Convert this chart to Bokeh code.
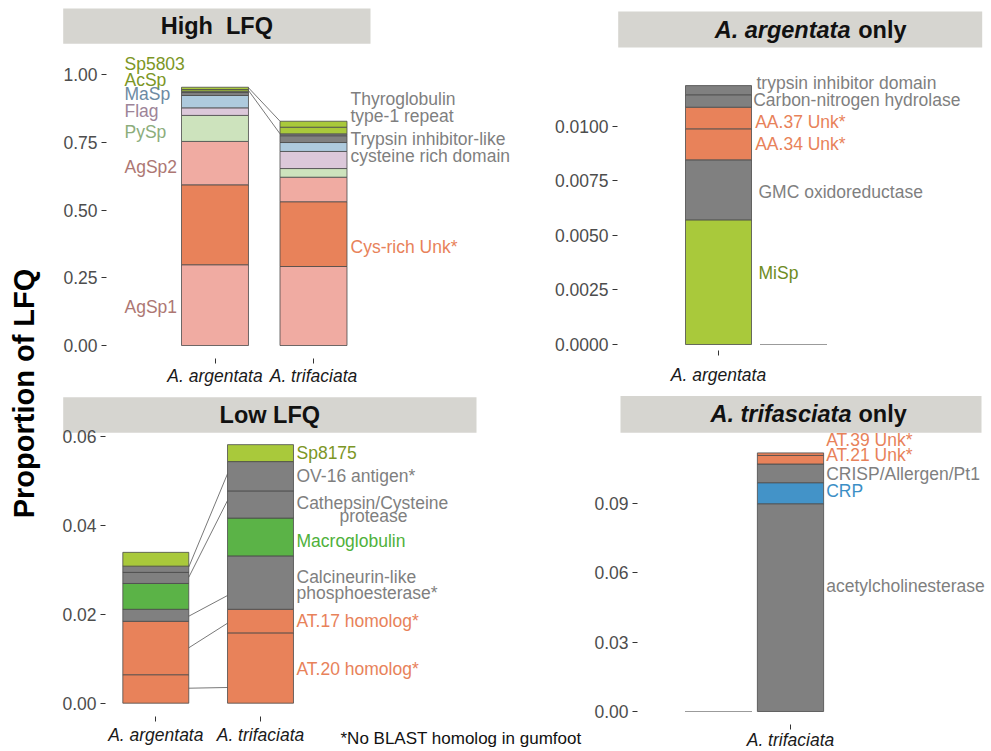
import math
from bokeh.plotting import figure
from bokeh.models import Range1d, FixedTicker, NumeralTickFormatter, ColumnDataSource
from bokeh.layouts import row, column
from bokeh.core.properties import value, field
from bokeh.embed import file_html
from bokeh.resources import INLINE

FONT = "Liberation Sans"
LAB_SIZE = "17.5px"

# ---------------- data ----------------
species = ["A. argentata", "A. trifaciata"]

# High LFQ (stack order bottom -> top)
high_segments = ["AgSp1", "Cys-rich Unk*", "AgSp2", "PySp", "Flag", "MaSp",
                 "Trypsin inhibitor-like", "Thyroglobulin", "AcSp", "Sp5803"]
high_argentata = [0.298, 0.295, 0.160, 0.096, 0.028, 0.0455, 0.011, 0.005, 0.006, 0.0085]
high_trifaciata = [0.2915, 0.239, 0.0905, 0.032, 0.063, 0.033, 0.025, 0.007, 0.0245, 0.022]
high_conn_left = [0.951, 0.941]
high_conn_right = [0.8277, 0.7812]

# Low LFQ
low_segments = ["AT.20 homolog*", "AT.17 homolog*", "Calcineurin-like phosphoesterase*",
                "Macroglobulin", "Cathepsin/Cysteine protease", "OV-16 antigen*", "Sp8175"]
low_argentata = [0.0064, 0.0120, 0.0027, 0.0058, 0.0025, 0.0014, 0.0031]
low_trifaciata = [0.0158, 0.0053, 0.0120, 0.0085, 0.0061, 0.0066, 0.0038]
low_conn_left = [0.00337, 0.01245, 0.01955, 0.0283, 0.0306]
low_conn_right = [0.00353, 0.01798, 0.0242, 0.04555, 0.05155]

# A. argentata only
arg_segments = ["MiSp", "GMC oxidoreductase", "AA.34 Unk*", "AA.37 Unk*",
                "Carbon-nitrogen hydrolase", "trypsin inhibitor domain"]
arg_argentata = [0.00571, 0.00275, 0.00142, 0.00099, 0.00057, 0.00042]
arg_trifaciata = [0, 0, 0, 0, 0, 0]

# A. trifasciata only
tri_segments = ["acetylcholinesterase", "CRP", "CRISP/Allergen/Pt1", "AT.21 Unk*", "AT.39 Unk*"]
tri_argentata = [0, 0, 0, 0, 0]
tri_trifaciata = [0.0899, 0.0091, 0.0081, 0.0037, 0.0011]

high_ticks = [0, 0.25, 0.5, 0.75, 1.0]
low_ticks = [0, 0.02, 0.04, 0.06]
arg_ticks = [0, 0.0025, 0.005, 0.0075, 0.01]
tri_ticks = [0, 0.03, 0.06, 0.09]

footnote = "*No BLAST homolog in gumfoot"
y_title = "Proportion of LFQ"

# ---------------- styles ----------------
PINK, ORANGE, LGREEN, LPURPLE, LBLUE = "#F0ABA2", "#E8825A", "#CDE3BD", "#DCC8DA", "#AECADD"
GRAY, LIME, GREEN, BLUE = "#808080", "#A9C93B", "#5BB347", "#4393C8"
high_colors = [PINK, ORANGE, PINK, LGREEN, LPURPLE, LBLUE, GRAY, GRAY, LIME, LIME]
low_colors = [ORANGE, ORANGE, GRAY, GREEN, GRAY, GRAY, LIME]
arg_colors = [LIME, GRAY, ORANGE, ORANGE, GRAY, GRAY]
tri_colors = [GRAY, BLUE, GRAY, ORANGE, ORANGE]

T_OR, T_GR, T_OL = "#E8825A", "#7f7f7f", "#7c9625"

# label lists: text, x (page px), y (data value), colour, align
tl_lab_text = ["Sp5803", "AcSp", "MaSp", "Flag", "PySp", "AgSp2", "AgSp1",
               "Thyroglobulin", "type-1 repeat", "Trypsin inhibitor-like",
               "cysteine rich domain", "Cys-rich Unk*"]
tl_lab_px = [124] * 7 + [350] * 5
tl_lab_y = [1.037, 0.978, 0.929, 0.867, 0.787, 0.658, 0.141,
            0.910, 0.8487, 0.7627, 0.7011, 0.3627]
tl_lab_col = [T_OL, T_OL, "#6d8aa3", "#9d8498", "#8cad7b", "#ad7773", "#ad7773",
              T_GR, T_GR, T_GR, T_GR, T_OR]
tl_lab_align = ["left"] * 12

tr_lab_text = ["trypsin inhibitor domain", "Carbon-nitrogen hydrolase", "AA.37 Unk*",
               "AA.34 Unk*", "GMC oxidoreductase", "MiSp"]
tr_lab_px = [756, 752.7, 754.7, 754.7, 758, 758]
tr_lab_y = [0.01199, 0.01121, 0.01018, 0.00918, 0.00697, 0.00329]
tr_lab_col = [T_GR, T_GR, T_OR, T_OR, T_GR, "#6f8c1e"]
tr_lab_align = ["left"] * 6

bl_lab_text = ["Sp8175", "OV-16 antigen*", "Cathepsin/Cysteine", "protease", "Macroglobulin",
               "Calcineurin-like", "phosphoesterase*", "AT.17 homolog*", "AT.20 homolog*"]
bl_lab_px = [296, 296, 296, 373, 296, 296, 296, 296, 296]
bl_lab_y = [0.05618, 0.05101, 0.04497, 0.04196, 0.03649, 0.02847, 0.02472, 0.01858, 0.00773]
bl_lab_col = [T_OL, T_GR, T_GR, T_GR, "#4fb13b", T_GR, T_GR, T_OR, T_OR]
bl_lab_align = ["left", "left", "left", "center", "left", "left", "left", "left", "left"]

br_lab_text = ["AT.39 Unk*", "AT.21 Unk*", "CRISP/Allergen/Pt1", "CRP", "acetylcholinesterase"]
br_lab_px = [825.7] * 5
br_lab_y = [0.1173, 0.1111, 0.1029, 0.0952, 0.0542]
br_lab_col = [T_OR, T_OR, T_GR, "#3c8fc6", T_GR]
br_lab_align = ["left"] * 5


def bare_figure(w, h, xr, yr):
    p = figure(width=w, height=h, x_range=xr, y_range=yr, toolbar_location=None,
               output_backend="svg", title=None, min_border=0,
               min_border_left=0, min_border_right=0, min_border_top=0, min_border_bottom=0)
    p.xgrid.visible = False
    p.ygrid.visible = False
    p.outline_line_color = None
    p.background_fill_color = "white"
    p.border_fill_color = "white"
    if "frame_align" in p.properties():
        p.frame_align = False
    return p


def make_panel(fig_x, fig_y, w, h, c1, step, zero, unit, xaxis_px, yaxis_px,
               seg_values, colors, bar_w, ticks, fmt, lab, strip, conn=None,
               x_standoff=2, x_tick=5):
    px2x = lambda px: 1 + (px - c1) / step
    py2y = lambda py: (zero - py) / unit
    p = bare_figure(w, h, Range1d(px2x(fig_x), px2x(fig_x + w)),
                    Range1d(py2y(fig_y + h), py2y(fig_y)))

    # strip header
    rl, rr, rt, rb, parts = strip
    p.quad(left=[px2x(rl)], right=[px2x(rr)], top=[py2y(rt)], bottom=[py2y(rb)],
           fill_color="#D6D5D0", line_color=None)
    cy = py2y((rt + rb) / 2)
    for txt, xp, al, style in parts:
        p.text(x=[px2x(xp)], y=[cy], text=[txt], text_align=al, text_baseline="middle",
               text_font=value(FONT), text_font_size=value("23.5px"), text_font_style=style,
               text_color="#111111")

    # stacked bars
    L, R, B, T, F, LC = [], [], [], [], [], []
    for i, vals in enumerate(seg_values):
        x = i + 1
        bottom = 0.0
        for v, c in zip(vals, colors):
            top = bottom + v
            L.append(x - bar_w / 2); R.append(x + bar_w / 2)
            B.append(bottom); T.append(top); F.append(c)
            LC.append("#4a4a4a" if v > 0 else "#9a9a9a")
            bottom = top
    src = ColumnDataSource(dict(left=L, right=R, bottom=B, top=T, fill=F, lc=LC))
    p.quad(left="left", right="right", bottom="bottom", top="top", fill_color="fill",
           line_color="lc", line_width=0.8, source=src)

    if conn is not None:
        cl, cr = conn
        p.segment(x0=[1 + bar_w / 2] * len(cl), y0=cl, x1=[2 - bar_w / 2] * len(cr), y1=cr,
                  line_color="#555555", line_width=0.8)

    text, pxs, ys, cols, aligns = lab
    lsrc = ColumnDataSource(dict(x=[px2x(v) for v in pxs], y=ys, text=text, col=cols, al=aligns))
    p.text(x="x", y="y", text="text", text_color="col", text_align=field("al"),
           text_baseline="middle", text_font=value(FONT), text_font_size=value(LAB_SIZE),
           source=lsrc)

    shown = [i + 1 for i, vals in enumerate(seg_values) if sum(vals) > 0]
    p.xaxis.ticker = FixedTicker(ticks=shown)
    p.xaxis.major_label_overrides = {i: species[i - 1] for i in shown}
    p.yaxis.ticker = FixedTicker(ticks=ticks)
    p.yaxis.formatter = NumeralTickFormatter(format=fmt)
    p.xaxis.fixed_location = py2y(xaxis_px)
    p.yaxis.fixed_location = px2x(yaxis_px)
    for ax in (p.xaxis[0], p.yaxis[0]):
        ax.axis_line_color = None
        ax.major_tick_line_color = "#333333"
        ax.major_tick_out = 5
        ax.major_tick_in = 0
        ax.minor_tick_line_color = None
        ax.major_label_text_font = FONT
        ax.major_label_text_font_size = LAB_SIZE
    p.xaxis.major_tick_out = x_tick
    p.xaxis.major_label_text_font_style = "italic"
    p.xaxis.major_label_text_color = "#1a1a1a"
    p.xaxis.major_label_standoff = x_standoff
    p.yaxis.major_label_text_color = "#4d4d4d"
    p.yaxis.major_label_standoff = 4
    return p, px2x, py2y


# ---------------- panels (page pixel geometry) ----------------
tl, _, _ = make_panel(58, 0, 482, 392, 214.5, 98.5, 345, 271, 358, 106,
                      [high_argentata, high_trifaciata], high_colors, 0.68, high_ticks, "0.00",
                      (tl_lab_text, tl_lab_px, tl_lab_y, tl_lab_col, tl_lab_align),
                      (62.7, 370, 8, 43.3, [("High \u00a0LFQ", (62.7 + 370) / 2, "center", "bold")]),
                      conn=(high_conn_left, high_conn_right), x_standoff=2)

tr, _, _ = make_panel(540, 0, 450, 392, 718, 75, 344, 21830, 350, 617,
                      [arg_argentata, arg_trifaciata], arg_colors, 0.88, arg_ticks, "0.0000",
                      (tr_lab_text, tr_lab_px, tr_lab_y, tr_lab_col, tr_lab_align),
                      (617.7, 981.7, 11, 47, [("A. argentata", 850, "right", "bold italic"),
                                              ("only", 857.7, "left", "bold")]),
                      x_standoff=9)

bl, bl_px2x, bl_py2y = make_panel(58, 392, 532, 358, 155.3, 104.7, 702.7, 4450, 716, 105,
                                  [low_argentata, low_trifaciata], low_colors, 0.63, low_ticks, "0.00",
                                  (bl_lab_text, bl_lab_px, bl_lab_y, bl_lab_col, bl_lab_align),
                                  (62.7, 476, 396.7, 432.3, [("Low LFQ", (62.7 + 476) / 2, "center", "bold")]),
                                  conn=(low_conn_left, low_conn_right), x_standoff=3)
bl.text(x=[bl_px2x(340)], y=[bl_py2y(738)], text=[footnote], text_align="left",
        text_baseline="middle", text_font=value(FONT), text_font_size=value("17px"),
        text_color="#111111")

br, _, _ = make_panel(590, 392, 400, 358, 718, 72, 711, 2311, 724, 637,
                      [tri_argentata, tri_trifaciata], tri_colors, 0.92, tri_ticks, "0.00",
                      (br_lab_text, br_lab_px, br_lab_y, br_lab_col, br_lab_align),
                      (620, 981, 395.5, 432.3, [("A. trifasciata", 851, "right", "bold italic"),
                                                ("only", 858, "left", "bold")]),
                      x_standoff=0, x_tick=5)

# y title figure
ylab = bare_figure(58, 750, Range1d(0, 58), Range1d(-750, 0))
ylab.xaxis.visible = False
ylab.yaxis.visible = False
ylab.text(x=[23], y=[-393], text=[y_title], angle=math.pi / 2,
          text_align="center", text_baseline="middle", text_font=value(FONT),
          text_font_size=value("29px"), text_font_style="bold", text_color="#000000")

layout = row(ylab, column(row(tl, tr), row(bl, br)))

open("out.html", "w").write(file_html(layout, INLINE))
